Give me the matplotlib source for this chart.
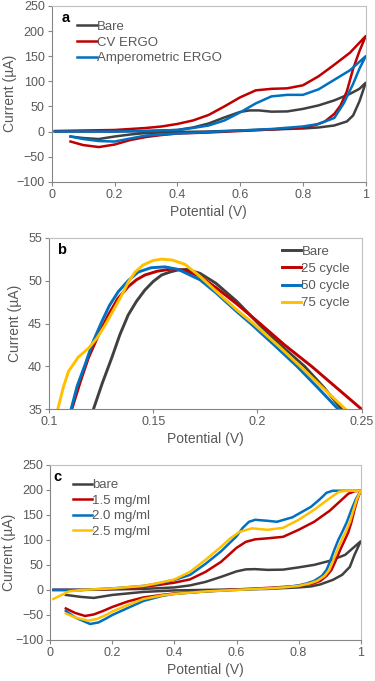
import numpy as np
import matplotlib
matplotlib.use("Agg")
import matplotlib.pyplot as plt

plt.rcParams['font.family'] = ['Liberation Sans', 'DejaVu Sans']

# colours used by the original (Excel style)
c_bare = '#404040'
c_red = '#c00000'
c_blue = '#0070c0'
c_yel = '#ffc000'
c_txt = '#595959'

# ---------------- panel a : CV loops ----------------
a_bare_v = [0.01, 0.1, 0.2, 0.3, 0.4, 0.45, 0.5, 0.55, 0.6, 0.63, 0.66, 0.7, 0.75, 0.8, 0.85, 0.9, 0.95, 0.98, 1.0,
            0.98, 0.96, 0.94, 0.9, 0.85, 0.8, 0.7, 0.6, 0.5, 0.4, 0.3, 0.25, 0.2, 0.15, 0.1, 0.06]
a_bare_i = [0, 0, 0, 1, 3, 8, 16, 28, 39, 42, 42, 39.5, 40, 45, 52, 62, 75, 85, 97,
            60, 32, 20, 12, 8, 6, 4, 2, 0, -1, -3, -6, -10, -15, -13, -10]

a_cv_v = [0.01, 0.1, 0.2, 0.3, 0.35, 0.4, 0.45, 0.5, 0.55, 0.6, 0.65, 0.7, 0.75, 0.8, 0.85, 0.9, 0.95, 1.0,
          0.98, 0.96, 0.94, 0.92, 0.9, 0.87, 0.84, 0.8, 0.7, 0.6, 0.5, 0.4, 0.35, 0.3, 0.25, 0.2, 0.15, 0.1, 0.06]
a_cv_i = [1, 2, 3, 7, 10, 15, 22, 33, 50, 68, 82, 85, 86, 92, 110, 133, 157, 190,
          160, 125, 80, 52, 35, 20, 13, 8, 4, 1, -2, -4, -7, -11, -17, -26, -31, -27, -20]

a_amp_v = [0.01, 0.1, 0.2, 0.3, 0.4, 0.45, 0.5, 0.55, 0.6, 0.65, 0.7, 0.75, 0.8, 0.85, 0.9, 0.95, 1.0,
           0.98, 0.96, 0.93, 0.9, 0.85, 0.8, 0.7, 0.6, 0.5, 0.4, 0.3, 0.25, 0.2, 0.15, 0.1, 0.06]
a_amp_i = [0, 0, 0, 1, 3, 7, 12, 22, 38, 56, 70, 73, 73, 84, 103, 122, 150,
           125, 95, 56, 27, 15, 10, 5, 2, -1, -4, -8, -14, -20, -19, -15, -10]

# ---------------- panel b : peak zoom ----------------
b_bare_v = [0.1213, 0.1255, 0.1301, 0.134, 0.138, 0.142, 0.146, 0.15, 0.154, 0.158, 0.162, 0.166,
            0.1724, 0.18, 0.19, 0.2004, 0.211, 0.2226, 0.232, 0.2405]
b_bare_i = [35, 38, 41, 43.7, 46.0, 47.6, 48.9, 49.9, 50.65, 51.0, 51.25, 51.3,
            50.85, 49.7, 47.6, 45, 42.5, 40, 37.5, 35]

b_25_v = [0.1109, 0.115, 0.1189, 0.124, 0.1285, 0.133, 0.138, 0.142, 0.146, 0.152, 0.1589, 0.165,
          0.1724, 0.18, 0.19, 0.2012, 0.213, 0.226, 0.238, 0.25]
b_25_i = [35, 38.2, 41, 43.8, 46, 47.9, 49.3, 50.1, 50.65, 51.1, 51.35, 51.2,
          50.5, 49.2, 47.3, 45, 42.5, 40, 37.5, 35]

b_50_v = [0.1106, 0.1135, 0.1173, 0.121, 0.1253, 0.129, 0.1332, 0.138, 0.1428, 0.149, 0.1556, 0.162,
          0.1724, 0.18, 0.19, 0.1967, 0.208, 0.219, 0.229, 0.2388]
b_50_i = [35, 37.7, 40.2, 42.8, 45.2, 47.1, 48.7, 50.0, 51.0, 51.5, 51.6, 51.3,
          50.1, 48.6, 46.4, 45, 42.5, 40, 37.5, 35]

b_75_v = [0.1042, 0.1068, 0.1093, 0.1141, 0.1189, 0.123, 0.1269, 0.131, 0.1349, 0.138, 0.1413, 0.145,
          0.15, 0.154, 0.159, 0.1652, 0.1724, 0.18, 0.19, 0.198, 0.21, 0.2206, 0.23, 0.2423]
b_75_i = [35, 37.5, 39.4, 41.1, 42.1, 43.3, 44.8, 46.6, 48.3, 49.8, 51.0, 51.8,
          52.35, 52.5, 52.4, 51.9, 50.5, 48.8, 46.6, 45, 42.4, 40, 37.8, 35]

# ---------------- panel c : GO concentration ----------------
c_bare_v = [0.01, 0.1, 0.2, 0.3, 0.4, 0.45, 0.5, 0.55, 0.6, 0.63, 0.66, 0.7, 0.75, 0.8, 0.85, 0.9, 0.95, 1.0,
            0.98, 0.965, 0.94, 0.91, 0.87, 0.84, 0.8, 0.7, 0.6, 0.5, 0.4, 0.3, 0.25, 0.2, 0.14, 0.1, 0.05]
c_bare_i = [0, 0, 1, 2, 5, 9, 16, 26, 37, 41, 41.5, 40, 40.5, 45, 50, 58, 70, 97,
            70, 46, 30, 20, 11, 7, 5, 2, 1, 0, -1, -4, -7, -10, -16, -14, -10]

c_15_v = [0.01, 0.1, 0.2, 0.3, 0.35, 0.4, 0.45, 0.5, 0.55, 0.6, 0.63, 0.66, 0.7, 0.75, 0.8, 0.85, 0.9, 0.93, 0.96, 0.98, 1.0,
          0.99, 0.98, 0.97, 0.96, 0.949, 0.934, 0.917, 0.906, 0.89, 0.87, 0.848, 0.8, 0.75, 0.7, 0.6, 0.5, 0.4,
          0.36, 0.3, 0.25, 0.2, 0.17, 0.14, 0.112, 0.08, 0.05]
c_15_i = [0, 0, 2, 6, 10, 14.5, 21, 36, 56, 84, 96, 101, 103, 106, 120, 136, 158, 175, 192, 197, 198,
          182, 160, 135, 115, 100, 80, 55, 40, 28, 18, 13, 8, 6, 4, 1, -3, -7,
          -10, -15, -23, -34, -42, -49, -52, -46, -37]

c_20_v = [0.01, 0.1, 0.2, 0.3, 0.35, 0.4, 0.45, 0.5, 0.55, 0.6, 0.62, 0.64, 0.66, 0.7, 0.73, 0.78, 0.84, 0.87, 0.89, 0.91, 1.0,
          0.985, 0.97, 0.955, 0.94, 0.928, 0.915, 0.9, 0.89, 0.875, 0.85, 0.826, 0.8, 0.75, 0.7, 0.6, 0.5, 0.4,
          0.36, 0.3, 0.25, 0.2, 0.18, 0.155, 0.128, 0.08, 0.05]
c_20_i = [0, 0, 3, 8, 13, 20, 30, 52, 77, 107, 124, 136, 140, 138, 136, 145, 166, 182, 194, 198, 198,
          182, 160, 135, 115, 100, 80, 55, 40, 28, 18, 13, 9, 5, 3, 0, -3, -8,
          -12, -22, -36, -50, -57, -65, -68, -55, -42]

c_25_v = [0.01, 0.06, 0.1, 0.2, 0.3, 0.35, 0.4, 0.45, 0.5, 0.55, 0.58, 0.61, 0.65, 0.7, 0.75, 0.8, 0.85, 0.9, 0.93, 0.96, 1.0,
          0.988, 0.977, 0.965, 0.951, 0.939, 0.925, 0.909, 0.899, 0.884, 0.86, 0.836, 0.8, 0.75, 0.7, 0.6, 0.5, 0.4,
          0.36, 0.3, 0.25, 0.2, 0.18, 0.15, 0.122, 0.08, 0.05]
c_25_i = [-18, -3, 0, 3, 8, 14, 21, 36, 60, 86, 103, 116, 123, 120, 124, 140, 160, 183, 196, 198, 198,
          182, 160, 135, 115, 100, 80, 55, 40, 28, 18, 13, 8, 5, 3, 0, -3, -8,
          -11, -18, -30, -43, -50, -58, -61.5, -55, -47]

W, H = 375, 681
fig = plt.figure(figsize=(W / 100, H / 100), dpi=100)


def make_ax(l, t, r, b):
    ax = fig.add_axes([l / W, 1 - b / H, (r - l) / W, (b - t) / H])
    for s in ax.spines.values():
        s.set_color('#bfbfbf')
        s.set_linewidth(0.8)
    ax.spines['left'].set_color('#868686')
    ax.spines['bottom'].set_color('#868686')
    ax.tick_params(direction='out', length=3, width=0.8, color='#868686',
                   labelsize=9, labelcolor=c_txt, pad=2)
    return ax


lw = 1.8
leg_kw = dict(frameon=False, fontsize=9.5, handlelength=1.5, handletextpad=0.0,
              borderaxespad=0.0, borderpad=0.0, labelcolor=c_txt)

# panel a
ax = make_ax(51.7, 6, 365.7, 181.7)
ax.plot(a_bare_v, a_bare_i, color=c_bare, lw=lw, label='Bare')
ax.plot(a_cv_v, a_cv_i, color=c_red, lw=lw, label='CV ERGO')
ax.plot(a_amp_v, a_amp_i, color=c_blue, lw=lw, label='Amperometric ERGO')
ax.set_xlim(0, 1)
ax.set_ylim(-100, 250)
ax.set_xticks(np.arange(0, 1.01, 0.2))
ax.set_xticklabels(['0', '0.2', '0.4', '0.6', '0.8', '1'])
ax.set_yticks(np.arange(-100, 251, 50))
ax.set_xlabel('Potential (V)', fontsize=10, color=c_txt, labelpad=3)
ax.set_ylabel('Current (µA)', fontsize=10, color=c_txt)
ax.yaxis.set_label_coords(-0.112, 0.5)
ax.text(0.043, 0.93, 'a', transform=ax.transAxes, fontsize=10.5, fontweight='bold',
        ha='center', va='center')
ax.legend(loc='upper left', bbox_to_anchor=(0.08, 0.917), labelspacing=0.27, **leg_kw)

# panel b
ax = make_ax(49, 237.7, 361.7, 409.3)
ax.plot(b_bare_v, b_bare_i, color=c_bare, lw=lw + 0.3, label='Bare')
ax.plot(b_25_v, b_25_i, color=c_red, lw=lw + 0.3, label='25 cycle')
ax.plot(b_50_v, b_50_i, color=c_blue, lw=lw + 0.3, label='50 cycle')
ax.plot(b_75_v, b_75_i, color=c_yel, lw=lw + 0.3, label='75 cycle')
ax.set_xlim(0.1, 0.25)
ax.set_ylim(35, 55)
ax.set_xticks([0.1, 0.15, 0.2, 0.25])
ax.set_xticklabels(['0.1', '0.15', '0.2', '0.25'])
ax.set_yticks(np.arange(35, 56, 5))
ax.set_xlabel('Potential (V)', fontsize=10, color=c_txt, labelpad=3)
ax.set_ylabel('Current (µA)', fontsize=10, color=c_txt)
ax.yaxis.set_label_coords(-0.086, 0.5)
ax.text(0.041, 0.928, 'b', transform=ax.transAxes, fontsize=10.5, fontweight='bold',
        ha='center', va='center')
ax.legend(loc='upper left', bbox_to_anchor=(0.744, 0.955), labelspacing=0.38, **leg_kw)

# panel c
ax = make_ax(50.3, 464.7, 360.7, 640)
ax.plot(c_bare_v, c_bare_i, color=c_bare, lw=lw, label='bare')
ax.plot(c_15_v, c_15_i, color=c_red, lw=lw, label='1.5 mg/ml')
ax.plot(c_20_v, c_20_i, color=c_blue, lw=lw, label='2.0 mg/ml')
ax.plot(c_25_v, c_25_i, color=c_yel, lw=lw, label='2.5 mg/ml')
ax.set_xlim(0, 1)
ax.set_ylim(-100, 250)
ax.set_xticks(np.arange(0, 1.01, 0.2))
ax.set_xticklabels(['0', '0.2', '0.4', '0.6', '0.8', '1'])
ax.set_yticks(np.arange(-100, 251, 50))
ax.set_xlabel('Potential (V)', fontsize=10, color=c_txt, labelpad=3)
ax.set_ylabel('Current (µA)', fontsize=10, color=c_txt)
ax.yaxis.set_label_coords(-0.11, 0.5)
ax.text(0.022, 0.932, 'c', transform=ax.transAxes, fontsize=10.5, fontweight='bold',
        ha='center', va='center')
ax.legend(loc='upper left', bbox_to_anchor=(0.072, 0.917), labelspacing=0.24, **leg_kw)

fig.savefig('out.png', dpi=100)
